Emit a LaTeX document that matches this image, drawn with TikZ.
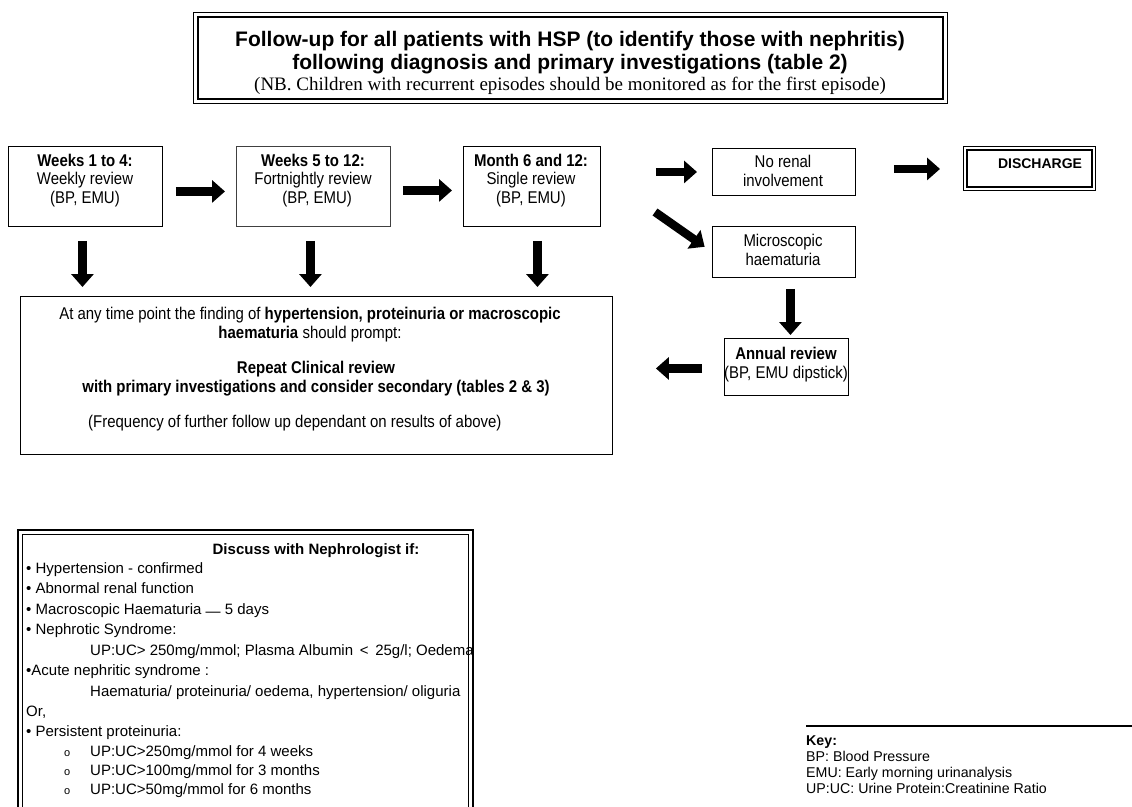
\documentclass[tikz,border=0pt]{standalone}
\usepackage{fontspec}
\setmainfont{Liberation Sans}
\newfontfamily\nar[FakeStretch=0.88]{Liberation Sans}
\newfontfamily\tms{Liberation Serif}
\usetikzlibrary{arrows.meta}
\begin{document}
\begin{tikzpicture}[x=1pt,y=-1pt,
  box/.style={draw=black, line width=0.9pt, inner sep=0pt, anchor=north west},
  flow/.style={font=\nar\fontsize{17}{18.5}\selectfont, align=center, inner sep=0pt, anchor=base},
  txt/.style={font=\fontsize{15}{18}\selectfont, inner sep=0pt, anchor=base west},
  keytxt/.style={font=\fontsize{14.2}{16}\selectfont, inner sep=0pt, anchor=base west},
  bigarrow/.style={line width=8.5pt, -{Triangle[length=13pt,width=22pt]}}]
\useasboundingbox (0,0) rectangle (1132,806);

% title
\node[box, line width=1.3pt, minimum width=754pt, minimum height=91pt] (tout) at (193,12) {};
\node[draw, line width=2pt, inner sep=0pt, minimum width=745pt, minimum height=82pt] (tin) at (tout.center) {};
\node[font=\bfseries\fontsize{21}{22}\selectfont, inner sep=0pt, anchor=base] (t1) at (570,46) {Follow-up for all patients with HSP (to identify those with nephritis)};
\node[font=\bfseries\fontsize{21}{22}\selectfont, inner sep=0pt, anchor=base] (t2) at (570,69) {following diagnosis and primary investigations (table 2)};
\node[font=\tms\fontsize{19}{20}\selectfont, inner sep=0pt, anchor=base] (t3) at (570,90) {(NB. Children with recurrent episodes should be monitored as for the first episode)};

% flow boxes
\node[box, minimum width=154pt, minimum height=80pt] (b1) at (8,146) {};
\node[flow] (b1t) at (85,203) {\textbf{Weeks 1 to 4:}\\Weekly review\\(BP, EMU)};
\node[box, draw=black!75, minimum width=154pt, minimum height=80pt] (b2) at (236,146) {};
\node[flow] (b2t) at (313,203) {\textbf{Weeks 5 to 12:}\\Fortnightly review\\\ \ (BP, EMU)};
\node[box, minimum width=137pt, minimum height=80pt] (b3) at (463,146) {};
\node[flow] (b3t) at (531,203) {\textbf{Month 6 and 12:}\\Single review\\(BP, EMU)};

\node[box, minimum width=143pt, minimum height=47pt] (nr) at (712,148) {};
\node[flow] (nrt) at (783,186) {No renal\\involvement};

\node[box, line width=1pt, minimum width=132pt, minimum height=44pt] (dout) at (963,146) {};
\node[draw, line width=1.6pt, inner sep=0pt, minimum width=125pt, minimum height=37pt] (din) at (dout.center) {};
\node[font=\bfseries\fontsize{14}{17}\selectfont, inner sep=0pt, anchor=base] (dt) at (1040,168) {DISCHARGE};

\node[box, minimum width=143pt, minimum height=51pt] (mh) at (712,226) {};
\node[flow] (mht) at (783,265) {Microscopic\\haematuria};

\node[box, minimum width=124pt, minimum height=57pt] (an) at (724,338) {};
\node[flow] (ant) at (786,378) {\textbf{Annual review}\\(BP, EMU dipstick)};

% big box
\node[box, minimum width=592pt, minimum height=158pt] (big) at (20,296) {};
\node[flow] (bg1) at (310,338) {At any time point the finding of \textbf{hypertension, proteinuria or macroscopic}\\\textbf{haematuria} should prompt:};
\node[flow] (bg2) at (316,392) {\textbf{Repeat Clinical review}\\\textbf{with primary investigations and consider secondary (tables 2 \& 3)}};
\node[flow, anchor=base west] (bg3) at (88,427) {(Frequency of further follow up dependant on results of above)};

% arrows
\draw[bigarrow, shorten <=13pt, shorten >=11pt] ([yshift=-5pt]b1.east) -- ([yshift=-5pt]b2.west);
\draw[bigarrow, shorten <=12pt, shorten >=11pt] ([yshift=-4pt]b2.east) -- ([yshift=-4pt]b3.west);
\draw[bigarrow, shorten <=55pt, shorten >=15pt] (b3.east |- nr.west) -- (nr.west);
\draw[bigarrow, shorten <=38pt, shorten >=23pt] ([yshift=3pt]nr.east) -- ([yshift=3pt]nr.east -| dout.west);
\coordinate (d1) at (655,212);
\draw[bigarrow, shorten >=9pt] (d1) -- (mh.west);
\draw[bigarrow, shorten <=14pt, shorten >=9pt] ([xshift=-3pt]b1.south) -- ([xshift=-3pt]b1.south |- big.north);
\draw[bigarrow, shorten <=14pt, shorten >=9pt] ([xshift=-3pt]b2.south) -- ([xshift=-3pt]b2.south |- big.north);
\draw[bigarrow, shorten <=14pt, shorten >=9pt] ([xshift=5.5pt]b3.south) -- ([xshift=5.5pt]b3.south |- big.north);
\draw[bigarrow, shorten <=11pt, shorten >=3pt] ([xshift=6.5pt]mh.south) -- ([xshift=6.5pt]mh.south |- an.north);
\draw[bigarrow, shorten <=22pt, shorten >=43pt] ([yshift=-1.5pt]an.west) -- ([yshift=-1.5pt]an.west -| big.east);

% discuss box
\draw[line width=1.3pt] (18,830) -- (18,530) -- (473,530) -- (473,830);
\draw[line width=1.8pt] (22.5,830) -- (22.5,534.5) -- (468.5,534.5) -- (468.5,830);
\node[font=\bfseries\fontsize{15}{18}\selectfont, inner sep=0pt, anchor=base] (dh) at (316,554) {Discuss with Nephrologist if:};
\node[txt] (l1) at (26,573) {\textbullet\ Hypertension - confirmed};
\node[txt] (l2) at (26,593) {\textbullet\ Abnormal renal function};
\node[txt] (l3) at (26,614) {\textbullet\ Macroscopic Haematuria \raisebox{-2pt}{—} 5 days};
\node[txt] (l4) at (26,634) {\textbullet\ Nephrotic Syndrome:};
\node[txt] (l5) at (90,655) {UP:UC> 250mg/mmol; Plasma Albumin \,<\, 25g/l; Oedema};
\node[txt] (l6) at (26,675) {\textbullet Acute nephritic syndrome :};
\node[txt] (l7) at (90,696) {Haematuria/ proteinuria/ oedema, hypertension/ oliguria};
\node[txt] (l8) at (26,716) {Or,};
\node[txt] (l9) at (26,736) {\textbullet\ Persistent proteinuria:};
\node[txt, font=\fontsize{11}{12}\selectfont] (o1) at (64,756) {o};
\node[txt] (p1) at (90,756) {UP:UC>250mg/mmol for 4 weeks};
\node[txt, font=\fontsize{11}{12}\selectfont] (o2) at (64,775) {o};
\node[txt] (p2) at (90,775) {UP:UC>100mg/mmol for 3 months};
\node[txt, font=\fontsize{11}{12}\selectfont] (o3) at (64,794) {o};
\node[txt] (p3) at (90,794) {UP:UC>50mg/mmol for 6 months};

% key
\coordinate (k0) at (806,726);
\coordinate (k1) at (1132,726);
\draw[line width=1.2pt] (k0) -- (k1);
\node[keytxt, font=\bfseries\fontsize{14.2}{16}\selectfont] (kh) at (806,745) {Key:};
\node[keytxt] (ka) at (806,761) {BP: Blood Pressure};
\node[keytxt] (kb) at (806,777) {EMU: Early morning urinanalysis};
\node[keytxt] (kc) at (806,793) {UP:UC: Urine Protein:Creatinine Ratio};
\end{tikzpicture}
\end{document}
